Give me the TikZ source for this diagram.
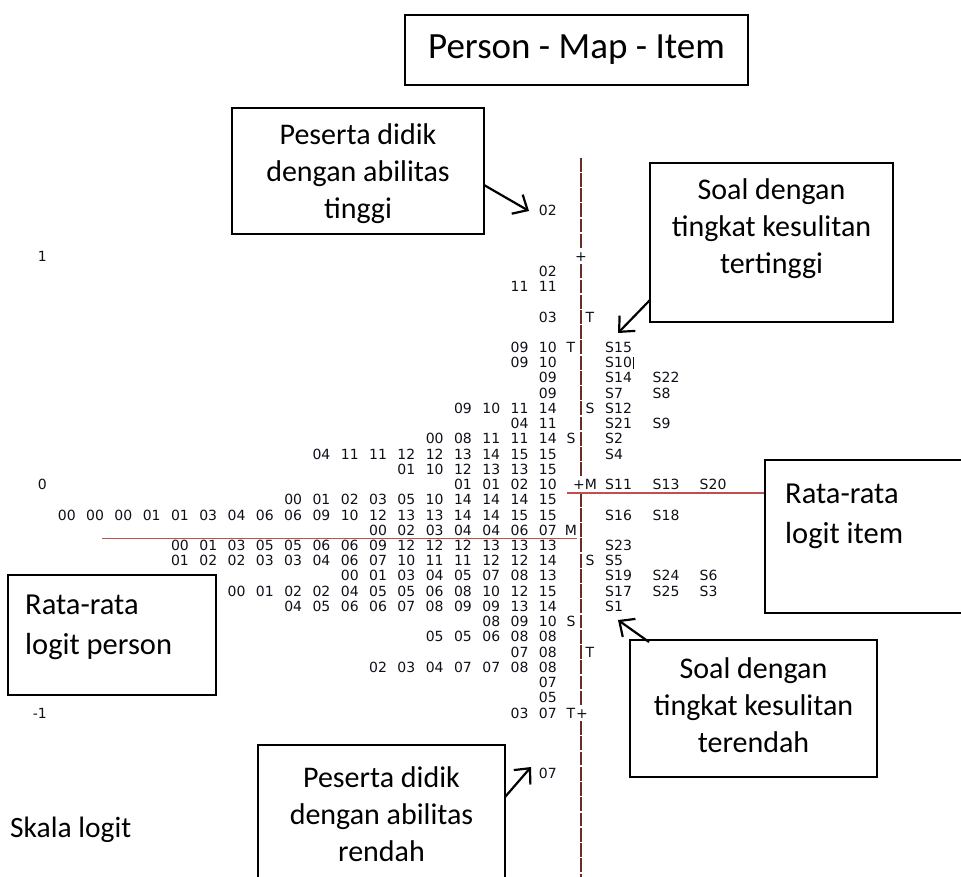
\documentclass[tikz,border=0pt]{standalone}
\usepackage{fontspec}
\setmainfont{Carlito}
\newfontfamily\mapfont{DejaVu Sans}
\usetikzlibrary{arrows.meta}
\definecolor{axisbrown}{RGB}{105,45,40}
\definecolor{meanred}{RGB}{192,80,77}
\definecolor{maptext}{RGB}{15,15,25}
\newcommand\numlist[1]{\foreach \v in {#1}{\makebox[28.3pt][r]{\v}}}
\newcommand\ry[1]{256+15.23*(#1)}
\begin{document}
\begin{tikzpicture}[x=1pt,y=-1pt,
  mapfnt/.style={font=\mapfont\fontsize{14}{14}\selectfont, text=maptext, inner sep=0pt, text height=10.2pt, text depth=0pt},
  numrow/.style={mapfnt, anchor=east},
  itm/.style={mapfnt, anchor=west},
  mk/.style={mapfnt, anchor=center},
  box/.style={draw=black, line width=1.2pt, rectangle, inner sep=0pt},
  boxtxt/.style={font=\fontsize{30}{37}\selectfont, align=center, inner sep=0pt},
  lefttxt/.style={font=\fontsize{30.5}{40}\selectfont, align=left, inner sep=0pt, anchor=north west},
  axisline/.style={draw=axisbrown, line width=1.8pt},
  meanline/.style={draw=meanred, line width=1.6pt},
  arr/.style={-{Straight Barb[length=12pt,width=22pt]}, line width=2.2pt, black}]
\useasboundingbox (0,0) rectangle (961,877);

% ---- vertical axis made of | characters ----
\foreach \k in {-6,...,-1,1,2,...,14,16,17,...,29,31,32,...,41}{
  \draw[axisline] (581,{\ry{\k}-6.9}) -- (581,{\ry{\k}+6.9});
}
\node[mk] (plus1) at (581,{\ry{0}}) {+};
\node[mk] (plus0) at (579,{\ry{15}}) {+};
\node[mk] (plusm1) at (582,{\ry{30}}) {+};

% ---- scale numbers ----
\node[numrow] (s1) at (47,{\ry{0}}) {1};
\node[numrow] (s0) at (47,{\ry{15}}) {0};
\node[numrow] (sm1) at (47,{\ry{30}}) {-1};

% ---- person rows ----
\node[numrow] (hi02) at (557,{\ry{-3}}) {\numlist{02}};
\node[numrow] (n01) at (557,{\ry{1}}) {\numlist{02}};
\node[numrow] (n02) at (557,{\ry{2}}) {\numlist{11,11}};
\node[numrow] (n04) at (557,{\ry{4}}) {\numlist{03}};
\node[numrow] (n06) at (557,{\ry{6}}) {\numlist{09,10}};
\node[numrow] (n07) at (557,{\ry{7}}) {\numlist{09,10}};
\node[numrow] (n08) at (557,{\ry{8}}) {\numlist{09}};
\node[numrow] (n09) at (557,{\ry{9}}) {\numlist{09}};
\node[numrow] (n10) at (557,{\ry{10}}) {\numlist{09,10,11,14}};
\node[numrow] (n11) at (557,{\ry{11}}) {\numlist{04,11}};
\node[numrow] (n12) at (557,{\ry{12}}) {\numlist{00,08,11,11,14}};
\node[numrow] (n13) at (557,{\ry{13}}) {\numlist{04,11,11,12,12,13,14,15,15}};
\node[numrow] (n14) at (557,{\ry{14}}) {\numlist{01,10,12,13,13,15}};
\node[numrow] (n15) at (557,{\ry{15}}) {\numlist{01,01,02,10}};
\node[numrow] (n16) at (557,{\ry{16}}) {\numlist{00,01,02,03,05,10,14,14,14,15}};
\node[numrow] (n17) at (557,{\ry{17}}) {\numlist{00,00,00,01,01,03,04,06,06,09,10,12,13,13,14,14,15,15}};
\node[numrow] (n18) at (557,{\ry{18}}) {\numlist{00,02,03,04,04,06,07}};
\node[numrow] (n19) at (557,{\ry{19}}) {\numlist{00,01,03,05,05,06,06,09,12,12,12,13,13,13}};
\node[numrow] (n20) at (557,{\ry{20}}) {\numlist{01,02,02,03,03,04,06,07,10,11,11,12,12,14}};
\node[numrow] (n21) at (557,{\ry{21}}) {\numlist{00,01,03,04,05,07,08,13}};
\node[numrow] (n22) at (557,{\ry{22}}) {\numlist{00,01,02,02,04,05,05,06,08,10,12,15}};
\node[numrow] (n23) at (557,{\ry{23}}) {\numlist{04,05,06,06,07,08,09,09,13,14}};
\node[numrow] (n24) at (557,{\ry{24}}) {\numlist{08,09,10}};
\node[numrow] (n25) at (557,{\ry{25}}) {\numlist{05,05,06,08,08}};
\node[numrow] (n26) at (557,{\ry{26}}) {\numlist{07,08}};
\node[numrow] (n27) at (557,{\ry{27}}) {\numlist{02,03,04,07,07,08,08}};
\node[numrow] (n28) at (557,{\ry{28}}) {\numlist{07}};
\node[numrow] (n29) at (557,{\ry{29}}) {\numlist{05}};
\node[numrow] (n30) at (557,{\ry{30}}) {\numlist{03,07}};
\node[numrow] (lo07) at (557,{\ry{34}}) {\numlist{07}};

% ---- markers T / S / M ----
\node[mk] (m04) at (590,{\ry{4}}) {T};
\node[mk] (m06) at (571,{\ry{6}}) {T};
\node[mk] (m10) at (590,{\ry{10}}) {S};
\node[mk] (m12) at (571,{\ry{12}}) {S};
\node[mk] (m15) at (591,{\ry{15}}) {M};
\node[mk] (m18) at (571,{\ry{18}}) {M};
\node[mk] (m20) at (590,{\ry{20}}) {S};
\node[mk] (m24) at (571,{\ry{24}}) {S};
\node[mk] (m26) at (590,{\ry{26}}) {T};
\node[mk] (m30) at (571,{\ry{30}}) {T};

% ---- items ----
\node[itm] (i06a) at (605,{\ry{6}}) {S15};
\node[itm] (i07a) at (605,{\ry{7}}) {S10\hspace{1pt}\rule[-1pt]{0.6pt}{12pt}};
\node[itm] (i08a) at (605,{\ry{8}}) {S14};
\node[itm] (i08b) at (652.5,{\ry{8}}) {S22};
\node[itm] (i09a) at (605,{\ry{9}}) {S7};
\node[itm] (i09b) at (652.5,{\ry{9}}) {S8};
\node[itm] (i10a) at (605,{\ry{10}}) {S12};
\node[itm] (i11a) at (605,{\ry{11}}) {S21};
\node[itm] (i11b) at (652.5,{\ry{11}}) {S9};
\node[itm] (i12a) at (605,{\ry{12}}) {S2};
\node[itm] (i13a) at (605,{\ry{13}}) {S4};
\node[itm] (i15a) at (605,{\ry{15}}) {S11};
\node[itm] (i15b) at (652.5,{\ry{15}}) {S13};
\node[itm] (i15c) at (699.5,{\ry{15}}) {S20};
\node[itm] (i17a) at (605,{\ry{17}}) {S16};
\node[itm] (i17b) at (652.5,{\ry{17}}) {S18};
\node[itm] (i19a) at (605,{\ry{19}}) {S23};
\node[itm] (i20a) at (605,{\ry{20}}) {S5};
\node[itm] (i21a) at (605,{\ry{21}}) {S19};
\node[itm] (i21b) at (652.5,{\ry{21}}) {S24};
\node[itm] (i21c) at (699.5,{\ry{21}}) {S6};
\node[itm] (i22a) at (605,{\ry{22}}) {S17};
\node[itm] (i22b) at (652.5,{\ry{22}}) {S25};
\node[itm] (i22c) at (699.5,{\ry{22}}) {S3};
\node[itm] (i23a) at (605,{\ry{23}}) {S1};

% ---- boxes ----
\node[box, minimum width=343pt, minimum height=70pt, font=\fontsize{37}{44}\selectfont] (title) at (576.5,50) {Person - Map - Item};

\node[box, minimum width=252pt, minimum height=126pt] (tinggi) at (358,171) {};
\node[boxtxt] (tinggitxt) at (358,174) {Peserta didik\\dengan abilitas\\tinggi};

\node[box, minimum width=243pt, minimum height=159pt] (tertinggi) at (771.5,242.5) {};
\node[boxtxt] (tertinggitxt) at (771.5,229) {Soal dengan\\tingkat kesulitan\\tertinggi};

\node[box, minimum width=215pt, minimum height=153pt] (itembox) at (872.5,536.5) {};
\node[lefttxt] (itemtxt) at (785,484) {Rata-rata\\logit item};

\node[box, minimum width=208pt, minimum height=120pt] (personbox) at (112,635) {};
\node[lefttxt] (persontxt) at (25,595) {Rata-rata\\logit person};

\node[box, minimum width=247pt, minimum height=137pt] (terendah) at (753.5,708.5) {};
\node[boxtxt] (terendahtxt) at (753.5,705) {Soal dengan\\tingkat kesulitan\\terendah};

\node[box, minimum width=247pt, minimum height=150pt] (rendah) at (381.5,820) {};
\node[boxtxt] (rendahtxt) at (381.5,814) {Peserta didik\\dengan abilitas\\rendah};

\node[font=\fontsize{29.5}{34}\selectfont, anchor=west, inner sep=0pt] (skala) at (10,830) {Skala logit};

% ---- mean lines ----
\coordinate (pm1) at (102,538.5);
\coordinate (pm2) at (577,538.5);
\draw[meanline] (pm1) -- (pm2);
\coordinate (im1) at (567,493);
\draw[meanline] (im1) -- (itembox.west |- im1);

% ---- arrows ----
\coordinate (a1s) at (484,185);
\coordinate (a1e) at (529,211);
\draw[arr] (a1s) -- (a1e);
\coordinate (a2s) at (650,300);
\coordinate (a2e) at (618,333);
\draw[arr] (a2s) -- (a2e);
\coordinate (a3s) at (649,642);
\coordinate (a3e) at (618,620);
\draw[arr] (a3s) -- (a3e);
\coordinate (a4s) at (505,797);
\coordinate (a4e) at (531,767);
\draw[arr] (a4s) -- (a4e);
\end{tikzpicture}
\end{document}
